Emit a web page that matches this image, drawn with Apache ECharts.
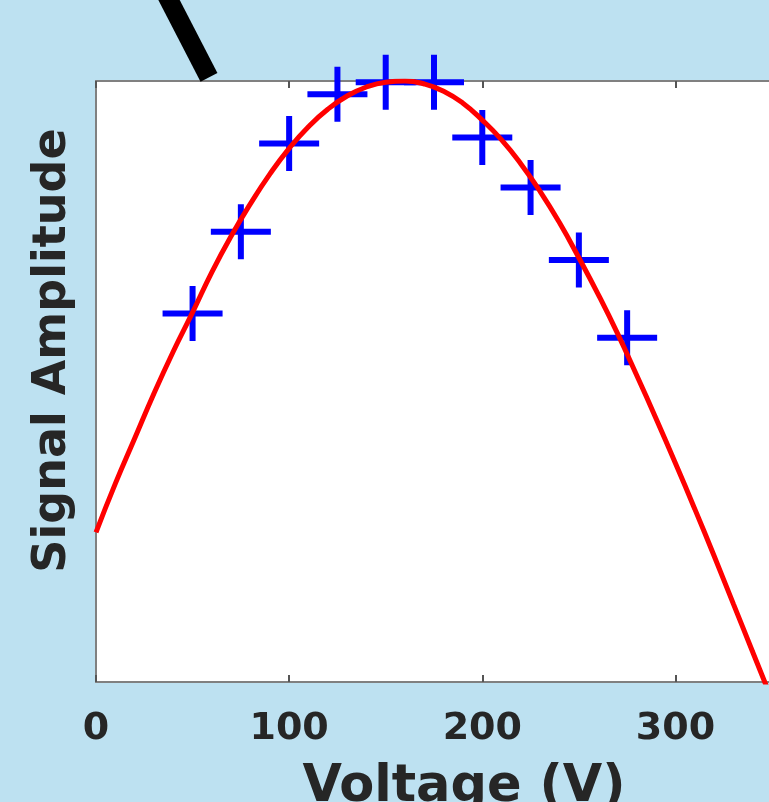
<!DOCTYPE html>
<html>
<head>
<meta charset="utf-8">
<script src="https://cdn.jsdelivr.net/npm/echarts@6/dist/echarts.min.js"></script>
<style>
html,body{margin:0;padding:0;background:#bde1f1;}
#c{width:769px;height:802px;}
</style>
</head>
<body>
<div id="c"></div>
<script>
// Measured points (blue crosses)
var measX = [50, 75, 100, 125, 150, 175, 200, 225, 250, 275];
var measY = [0.613, 0.749, 0.896, 0.978, 0.998, 0.998, 0.906, 0.823, 0.702, 0.573];
// Fitted curve (red)
var fitX = [0, 10, 20, 30, 40, 50, 60, 70, 80, 90, 100, 110, 120, 130, 140, 150, 160, 170, 180, 190, 200, 210, 220, 230, 240, 250, 260, 270, 280, 290, 300, 310, 320, 330, 340, 350];
var fitY = [0.249, 0.33, 0.405, 0.48, 0.55, 0.615, 0.682, 0.742, 0.796, 0.845, 0.888, 0.924, 0.953, 0.975, 0.99, 0.998, 1.0, 0.995, 0.983, 0.963, 0.935, 0.902, 0.862, 0.816, 0.764, 0.706, 0.645, 0.58, 0.51, 0.438, 0.364, 0.288, 0.21, 0.13, 0.05, -0.03];
// Annotation stroke (black, partly outside the axes)
var annotX = [35.2, 58.5];
var annotY = [1.151, 1.006];
var xTicks = [0, 100, 200, 300];

var crossPath = 'path://M27,0 L33,0 L33,24.5 L60,24.5 L60,30.5 L33,30.5 L33,55 L27,55 L27,30.5 L0,30.5 L0,24.5 L27,24.5 Z';
function zip(a, b) { return a.map(function (v, i) { return [v, b[i]]; }); }

var FONT = 'DejaVu Sans';
var chart = echarts.init(document.getElementById('c'), null, {renderer: 'canvas'});
chart.setOption({
  backgroundColor: '#bde1f1',
  animation: false,
  grid: {left: 96, right: -3, top: 81, bottom: 120, show: true, backgroundColor: '#ffffff', borderWidth: 0,
    outerBoundsMode: 'none', containLabel: false},
  xAxis: [{
    type: 'value', position: 'bottom', min: 0, max: 350, interval: 100,
    name: 'Voltage (V)', nameLocation: 'middle', nameGap: 80,
    nameTextStyle: {fontFamily: FONT, fontWeight: 'bold', fontSize: 51, color: '#262626', padding: [0, 0, 0, 60]},
    axisLine: {show: true, onZero: false, lineStyle: {color: '#808080', width: 2}},
    axisTick: {show: true, inside: true, length: 7, lineStyle: {color: '#555', width: 2}},
    axisLabel: {fontFamily: FONT, fontWeight: 'bold', fontSize: 38, color: '#262626', margin: 28,
      formatter: function (v) { return xTicks.indexOf(v) >= 0 ? String(v) : ''; }},
    splitLine: {show: false}
  }, {
    type: 'value', position: 'top', min: 0, max: 350, interval: 100,
    axisLine: {show: true, onZero: false, lineStyle: {color: '#808080', width: 2}},
    axisTick: {show: true, inside: true, length: 7, lineStyle: {color: '#555', width: 2}},
    axisLabel: {show: false}, splitLine: {show: false}
  }],
  yAxis: [{
    type: 'value', min: 0, max: 1,
    name: 'Signal Amplitude', nameLocation: 'middle', nameGap: 20,
    nameTextStyle: {fontFamily: FONT, fontWeight: 'bold', fontSize: 46, color: '#262626', padding: [0, 0, 0, 62]},
    axisLine: {show: true, onZero: false, lineStyle: {color: '#808080', width: 2}},
    axisTick: {show: false}, axisLabel: {show: false}, splitLine: {show: false}
  }],
  series: [{
    type: 'scatter', data: zip(measX, measY), symbol: crossPath, symbolSize: [60, 55],
    itemStyle: {color: '#0000ff', opacity: 1}, clip: false, z: 2
  }, {
    type: 'line', data: zip(fitX, fitY), smooth: true, showSymbol: false, symbol: 'none',
    lineStyle: {color: '#ff0000', width: 5}, clip: true, z: 3
  }, {
    type: 'line', data: zip(annotX, annotY), showSymbol: false, symbol: 'none',
    lineStyle: {color: '#000000', width: 19, cap: 'butt'}, clip: false, z: 4
  }]
});
</script>
</body>
</html>
